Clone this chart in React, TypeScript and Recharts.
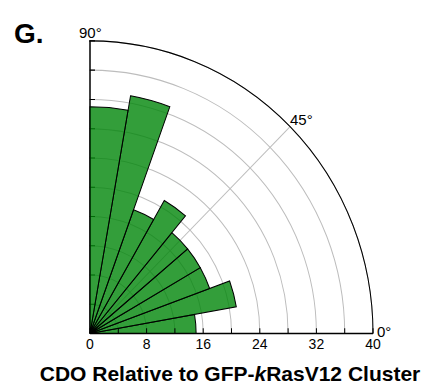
import React from 'react';
import { RadialBarChart, RadialBar, PolarAngleAxis, PolarRadiusAxis, PolarGrid } from 'recharts';

// 10 degree bins, counts
const bins = ['0-10', '10-20', '20-30', '30-40', '40-50', '50-60', '60-70', '70-80', '80-90'];
const counts = [15, 21, 18, 18, 18, 21, 18, 33, 31];
const radiusTicks = [0, 4, 8, 12, 16, 20, 24, 28, 32, 36, 40];
const labeledTicks = [0, 8, 16, 24, 32, 40];

const data = bins.map((bin, i) => ({ bin, count: counts[i] }));

const FONT = '"Liberation Sans", Arial, sans-serif';
const W = 426;
const H = 385;
const CX = 90;
const CY = 333.5;
const R = 283;

const BottomTick = (props: any) => {
  const { x, y, payload } = props;
  const show = labeledTicks.includes(payload.value);
  return (
    <g>
      <line x1={x} y1={y} x2={x} y2={y - 5} stroke="#000" strokeWidth={1} />
      {show && (
        <text x={x} y={y + 15} textAnchor="middle" fontSize={14} fontFamily={FONT} fill="#000">
          {payload.value}
        </text>
      )}
    </g>
  );
};

const SideTick = (props: any) => {
  const { x, y } = props;
  return <line x1={x} y1={y} x2={x + 5} y2={y} stroke="#000" strokeWidth={1} />;
};

const common = {
  width: W,
  height: H,
  cx: CX,
  cy: CY,
  innerRadius: 0,
  outerRadius: R,
  data,
  layout: 'centric' as const,
  margin: { top: 0, right: 0, bottom: 0, left: 0 },
  barCategoryGap: 0,
  barGap: 0,
};

export default function App() {
  return (
    <div style={{ position: 'absolute', left: 0, top: 0, width: W, height: H, background: '#fff' }}>
      <div style={{ position: 'absolute', left: 0, top: 0, width: W, height: H, transform: 'scaleY(1.034)', transformOrigin: `0px ${CY}px` }}>
        {/* grid, outer arc and vertical axis, clipped to the first quadrant */}
        <div style={{ position: 'absolute', left: 0, top: 0, clipPath: `inset(0px 0px ${H - CY}px ${CX - 1}px)` }}>
          <RadialBarChart {...common} startAngle={10} endAngle={100}>
            <PolarGrid gridType="circle" polarAngles={[45]} stroke="#bdbdbd" strokeWidth={1} />
            <PolarAngleAxis
              dataKey="bin"
              type="category"
              tick={false}
              axisLineType="circle"
              axisLine={{ stroke: '#000', strokeWidth: 1 }}
            />
            <PolarRadiusAxis
              type="number"
              domain={[0, 40]}
              ticks={radiusTicks}
              angle={90}
              axisLine={{ stroke: '#000', strokeWidth: 1.5 }}
              tick={<SideTick />}
            />
            <RadialBar dataKey="count" fill="none" stroke="none" isAnimationActive={false} />
          </RadialBarChart>
        </div>
        {/* bars and bottom radius axis */}
        <div style={{ position: 'absolute', left: 0, top: 0 }}>
          <RadialBarChart {...common} startAngle={10} endAngle={100}>
            <PolarAngleAxis dataKey="bin" type="category" tick={false} axisLine={false} />
            <PolarRadiusAxis
              type="number"
              domain={[0, 40]}
              ticks={radiusTicks}
              angle={0}
              axisLine={{ stroke: '#000', strokeWidth: 1.5 }}
              tick={<BottomTick />}
            />
            <RadialBar
              dataKey="count"
              fill="#008609"
              fillOpacity={0.8}
              stroke="#000"
              strokeWidth={1}
              isAnimationActive={false}
            />
          </RadialBarChart>
        </div>
      </div>
      <svg width={W} height={H} style={{ position: 'absolute', left: 0, top: 0, pointerEvents: 'none' }}>
        <text x={14} y={42.5} fontSize={28} fontWeight="bold" fontFamily={FONT} fill="#000">G.</text>
        <text x={79} y={37.5} fontSize={15} fontFamily={FONT} fill="#000">90°</text>
        <text x={290} y={125} fontSize={15} fontFamily={FONT} fill="#000">45°</text>
        <text x={377} y={337} fontSize={15} fontFamily={FONT} fill="#000">0°</text>
        <text x={230} y={381} textAnchor="middle" fontSize={21} fontWeight="bold" fontFamily={FONT} fill="#000">
          CDO Relative to GFP-<tspan fontStyle="italic">k</tspan>RasV12 Cluster
        </text>
      </svg>
    </div>
  );
}
